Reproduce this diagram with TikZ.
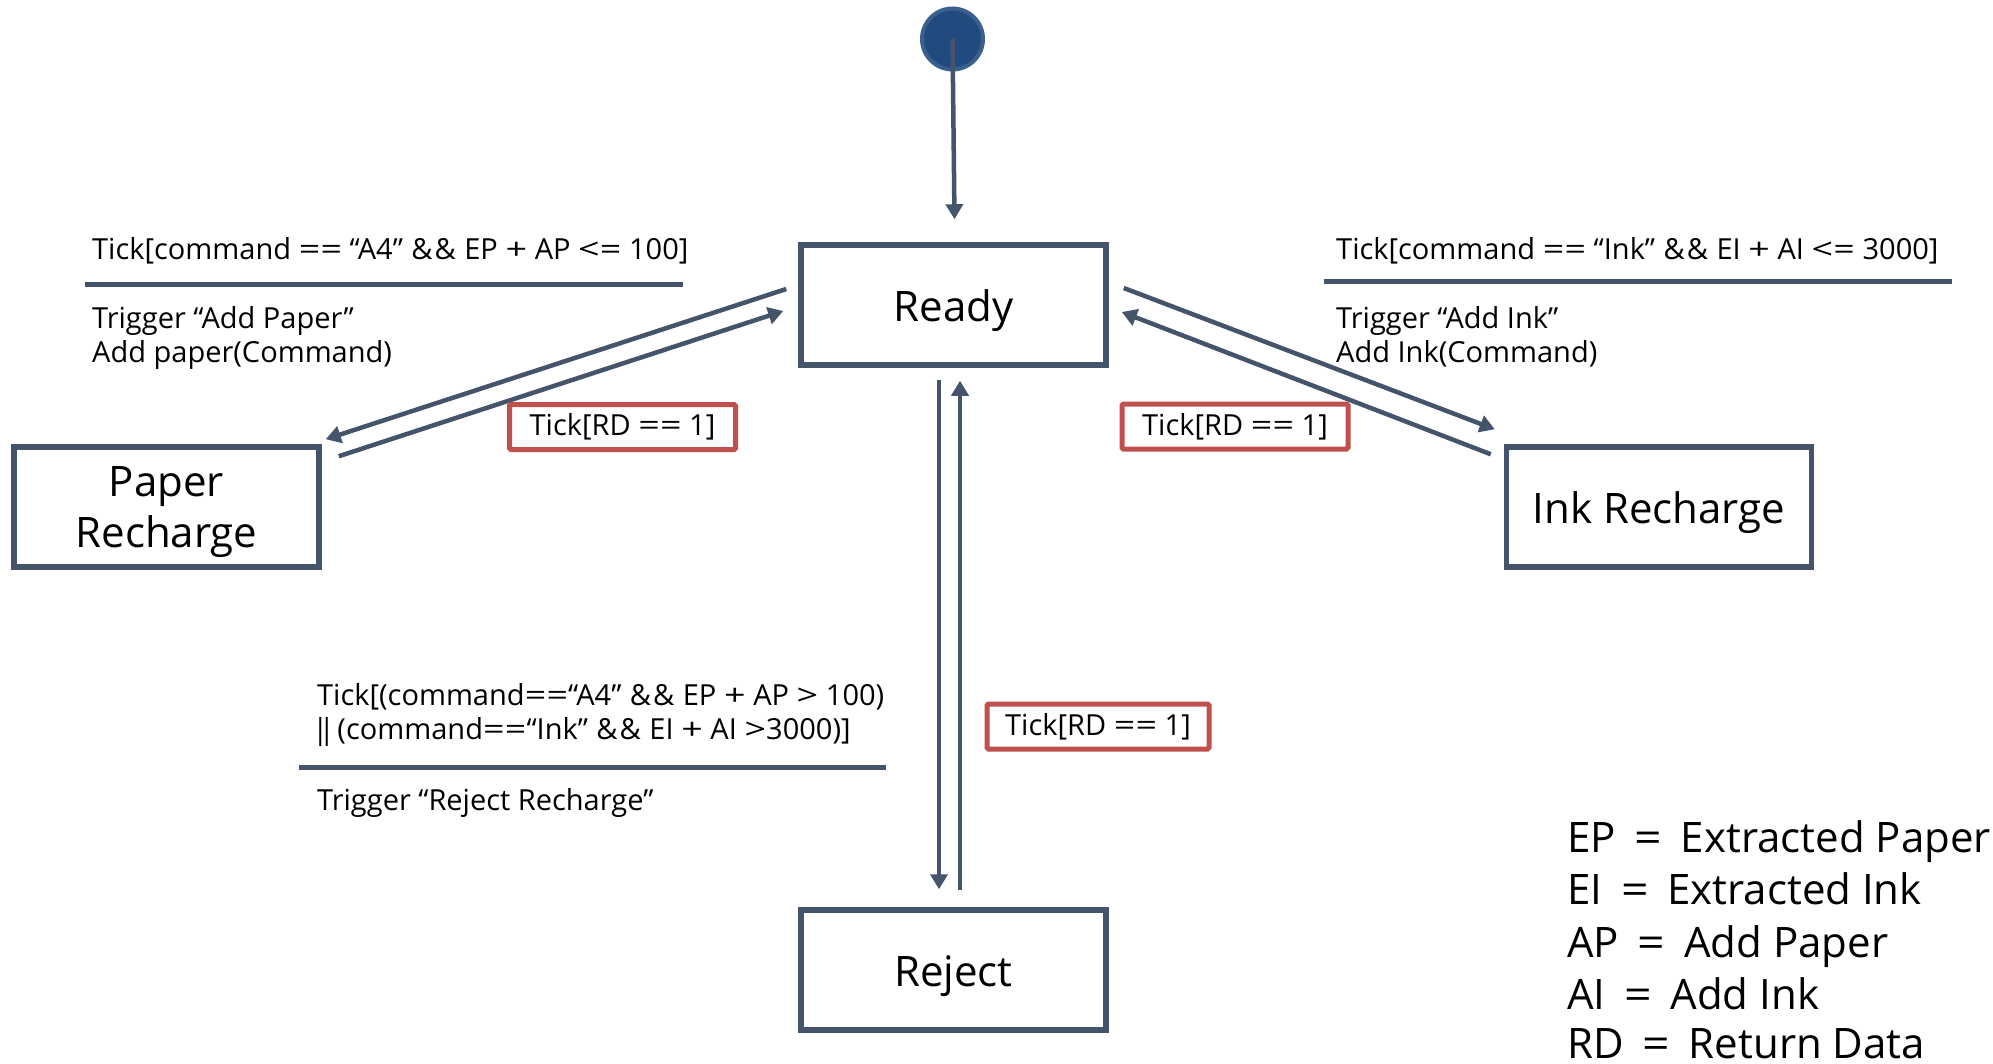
\documentclass[tikz,border=0pt]{standalone}
\usepackage{fontspec}
\usepackage{graphicx}
\setmainfont{Open Sans}
\usetikzlibrary{arrows.meta}
\definecolor{slate}{RGB}{68,84,106}
\definecolor{guardred}{RGB}{192,80,77}
\definecolor{initfill}{RGB}{33,74,126}
\definecolor{initline}{RGB}{60,96,142}
\newcommand\myop[1]{\makebox[0.75em]{\scalebox{1.3}[1]{#1}}}
\newcommand\myamp{\makebox[0.8em]{\&}}
\newcommand\myvbar{\makebox[0.22em]{|}}
\newcommand\myeq{\makebox[1.55em]{\scalebox{1.15}[1]{=}}}
\begin{document}
\begin{tikzpicture}[x=1pt,y=-1pt,
  statebox/.style={draw=slate,line width=5.5pt,minimum width=305pt,minimum height=120pt,inner sep=0pt,align=center,font=\fontsize{42}{51}\selectfont},
  onetext/.style={text height=36pt,text depth=4pt},
  guardbox/.style={draw=guardred,line width=5pt,rounded corners=1.5pt,inner sep=0pt,font=\fontsize{29}{34}\selectfont},
  lbl/.style={inner sep=0pt,anchor=base west,font=\fontsize{29}{34}\selectfont},
  legend/.style={inner sep=0pt,anchor=base west,font=\fontsize{42}{50}\selectfont},
  conn/.style={draw=slate,line width=4.5pt,-{Triangle[length=15pt,width=17pt]}},
  sepline/.style={draw=slate,line width=5pt}]
\useasboundingbox (0,0) rectangle (1993,1063);
\fill[white] (0,0) rectangle (1993,1063);

% states
\node[circle,fill=initfill,draw=initline,line width=4pt,minimum size=61pt,inner sep=0pt] (init) at (952.5,39) {};
\node[statebox,onetext] (ready) at (953.5,305) {Ready};
\node[statebox,text depth=0pt] (paper) at (166.5,507) {Paper\\Recharge};
\node[statebox,onetext] (ink) at (1659,507) {Ink Recharge};
\node[statebox,onetext] (reject) at (953.5,970) {Reject};

% connectors
\draw[conn] (init.center) -- ([shift={(1,-23)}]ready.north);
\draw[conn] ([shift={(-12,-16)}]ready.west) -- ([shift={(4,-5)}]paper.north east);
\draw[conn] ([shift={(17,12)}]paper.north east) -- ([shift={(-15,6)}]ready.west);
\draw[conn] ([shift={(15,-17)}]ready.east) -- ([shift={(-9,-15)}]ink.north west);
\draw[conn] ([shift={(-13,10)}]ink.north west) -- ([shift={(13,7)}]ready.east);
\draw[conn] ([shift={(-14.5,12)}]ready.south) -- ([shift={(-14.5,-18)}]reject.north);
\draw[conn] ([shift={(6.5,-17)}]reject.north) -- ([shift={(6.5,13)}]ready.south);

% left transition label
\node[lbl] (lg1) at (92,259) {Tick[command \myop{=}\myop{=} “A4” \myamp\myamp{} EP \myop{+} AP \myop{<}\myop{=} 100]};
\coordinate (ls1) at (85,284);
\coordinate (ls2) at (683,284);
\draw[sepline] (ls1) -- (ls2);
\node[lbl] (la1) at (92,328) {Trigger “Add Paper”};
\node[lbl] (la2) at (92,362) {Add paper(Command)};

% right transition label
\node[lbl] (rg1) at (1336,259) {Tick[command \myop{=}\myop{=} “Ink” \myamp\myamp{} EI \myop{+} AI \myop{<}\myop{=} 3000]};
\coordinate (rs1) at (1324,281);
\coordinate (rs2) at (1952,281);
\draw[sepline] (rs1) -- (rs2);
\node[lbl] (ra1) at (1336,328) {Trigger “Add Ink”};
\node[lbl] (ra2) at (1336,362) {Add Ink(Command)};

% bottom transition label
\node[lbl] (bg1) at (317,705) {Tick[(command\myop{=}\myop{=}“A4” \myamp\myamp{} EP \myop{+} AP \myop{>} 100)};
\node[lbl] (bg2) at (317,739) {\myvbar\myvbar{} (command\myop{=}\myop{=}“Ink” \myamp\myamp{} EI \myop{+} AI \myop{>}3000)]};
\coordinate (bs1) at (299,767);
\coordinate (bs2) at (886,767);
\draw[sepline] (bs1) -- (bs2);
\node[lbl] (ba1) at (317,810) {Trigger “Reject Recharge”};

% guard boxes
\node[guardbox,minimum width=226pt,minimum height=45pt] (gl) at (622.5,427) {Tick[RD \myop{=}\myop{=} 1]};
\node[guardbox,minimum width=226pt,minimum height=45pt] (gr) at (1235,426.5) {Tick[RD \myop{=}\myop{=} 1]};
\node[guardbox,minimum width=222pt,minimum height=45pt] (gb) at (1098,726.5) {Tick[RD \myop{=}\myop{=} 1]};

% legend
\node[legend] (l1) at (1567,852) {EP\myeq Extracted Paper};
\node[legend] (l2) at (1567,904) {EI\myeq Extracted Ink};
\node[legend] (l3) at (1567,957) {AP\myeq Add Paper};
\node[legend] (l4) at (1567,1009) {AI\myeq Add Ink};
\node[legend] (l5) at (1567,1058) {RD\myeq Return Data};
\end{tikzpicture}
\end{document}
